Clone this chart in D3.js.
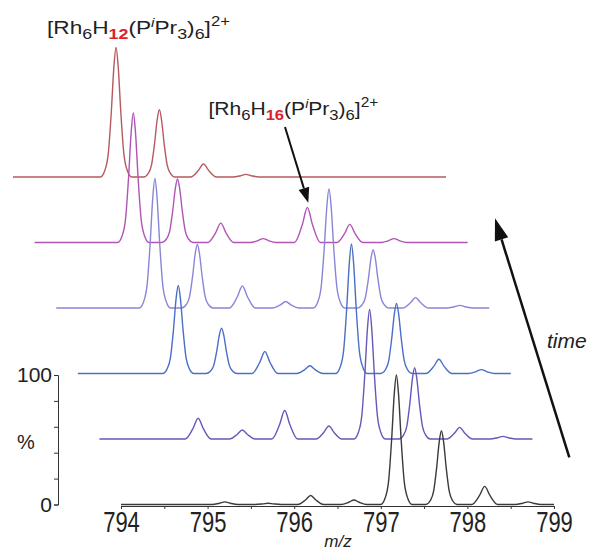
<!DOCTYPE html>
<html>
<head>
<meta charset="utf-8">
<script src="https://cdn.jsdelivr.net/npm/d3@7"></script>
<style>
  body { margin: 0; background: #fff; }
  text { font-family: "Liberation Sans", Arial, sans-serif; fill: #222; }
</style>
</head>
<body>
<svg id="chart" width="591" height="552"></svg>
<script>
// Axis ticks
const mzTicks = [794, 794.5, 795, 795.5, 796, 796.5, 797, 797.5, 798, 798.5, 799];
const pctTicks = [0, 20, 40, 60, 80, 100];

// Spectra, bottom (latest) to top (earliest): [m/z, %]
const spectrum0 = [[794,0],
  [795.05,0],[795.14,1],[795.20,2],[795.26,1],[795.35,0],
  [795.55,0],[795.64,0.5],[795.70,1],[795.76,0.5],[795.85,0],
  [796.04,0],[796.13,3.5],[796.19,7],[796.25,3.5],[796.34,0],
  [796.54,0],[796.63,1.75],[796.69,3.5],[796.75,1.75],[796.84,0],
  [797.00,0],[797.05,5],[797.09,18],[797.125,50],[797.155,85],[797.18,100],[797.205,85],[797.235,50],[797.27,18],[797.31,5],[797.36,0],
  [797.52,0],[797.57,2.9],[797.61,10.3],[797.645,28.5],[797.675,48.5],[797.70,57],[797.725,48.5],[797.755,28.5],[797.79,10.3],[797.83,2.9],[797.88,0],
  [798.05,0],[798.14,7],[798.20,14],[798.26,7],[798.35,0],
  [798.55,0],[798.64,1],[798.70,2],[798.76,1],[798.85,0],
  [799,0]];

const spectrum1 = [[794,0],
  [794.99,0],[795.08,8],[795.14,16],[795.20,8],[795.29,0],
  [795.50,0],[795.59,3.5],[795.65,7],[795.71,3.5],[795.80,0],
  [795.99,0],[796.08,11],[796.14,22],[796.20,11],[796.29,0],
  [796.50,0],[796.59,5],[796.65,10],[796.71,5],[796.80,0],
  [796.94,0],[796.99,5],[797.03,18],[797.065,50],[797.095,85],[797.12,100],[797.145,85],[797.175,50],[797.21,18],[797.25,5],[797.30,0],
  [797.46,0],[797.51,2.8],[797.55,9.9],[797.585,27.5],[797.615,46.8],[797.64,55],[797.665,46.8],[797.695,27.5],[797.73,9.9],[797.77,2.8],[797.82,0],
  [798.01,0],[798.10,4.5],[798.16,9],[798.22,4.5],[798.31,0],
  [798.51,0],[798.60,1],[798.66,2],[798.72,1],[798.81,0],
  [799,0]];

const spectrum2 = [[794,0],
  [794.98,0],[795.03,3.4],[795.07,12.2],[795.105,34],[795.135,57.8],[795.16,68],[795.185,57.8],[795.215,34],[795.25,12.2],[795.29,3.4],[795.34,0],
  [795.48,0],[795.53,1.8],[795.57,6.3],[795.605,17.5],[795.635,29.8],[795.66,35],[795.685,29.8],[795.715,17.5],[795.75,6.3],[795.79,1.8],[795.84,0],
  [796.01,0],[796.10,8.5],[796.16,17],[796.22,8.5],[796.31,0],
  [796.53,0],[796.62,3],[796.68,6],[796.74,3],[796.83,0],
  [796.98,0],[797.03,5],[797.07,18],[797.105,50],[797.135,85],[797.16,100],[797.185,85],[797.215,50],[797.25,18],[797.29,5],[797.34,0],
  [797.50,0],[797.55,2.7],[797.59,9.7],[797.625,27],[797.655,45.9],[797.68,54],[797.705,45.9],[797.735,27],[797.77,9.7],[797.81,2.7],[797.86,0],
  [798.02,0],[798.11,5.5],[798.17,11],[798.23,5.5],[798.32,0],
  [798.51,0],[798.60,1.5],[798.66,3],[798.72,1.5],[798.81,0],
  [799,0]];

const spectrum3 = [[794,0],
  [794.96,0],[795.01,5],[795.05,18],[795.085,50],[795.115,85],[795.14,100],[795.165,85],[795.195,50],[795.23,18],[795.27,5],[795.32,0],
  [795.45,0],[795.50,2.5],[795.54,8.8],[795.575,24.5],[795.605,41.7],[795.63,49],[795.655,41.7],[795.685,24.5],[795.72,8.8],[795.76,2.5],[795.81,0],
  [796.00,0],[796.09,8.5],[796.15,17],[796.21,8.5],[796.30,0],
  [796.50,0],[796.59,2.5],[796.65,5],[796.71,2.5],[796.80,0],
  [796.97,0],[797.02,4.6],[797.06,16.6],[797.095,46],[797.125,78.2],[797.15,92],[797.175,78.2],[797.205,46],[797.24,16.6],[797.28,4.6],[797.33,0],
  [797.48,0],[797.53,2.3],[797.57,8.1],[797.605,22.5],[797.635,38.3],[797.66,45],[797.685,38.3],[797.715,22.5],[797.75,8.1],[797.79,2.3],[797.84,0],
  [798.00,0],[798.09,4],[798.15,8],[798.21,4],[798.30,0],
  [798.51,0],[798.60,1],[798.66,2],[798.72,1],[798.81,0],
  [799,0]];

const spectrum4 = [[794,0],
  [794.96,0],[795.01,5],[795.05,18],[795.085,50],[795.115,85],[795.14,100],[795.165,85],[795.195,50],[795.23,18],[795.27,5],[795.32,0],
  [795.47,0],[795.52,2.5],[795.56,8.8],[795.595,24.5],[795.625,41.7],[795.65,49],[795.675,41.7],[795.705,24.5],[795.74,8.8],[795.78,2.5],[795.83,0],
  [796.00,0],[796.09,7.5],[796.15,15],[796.21,7.5],[796.30,0],
  [796.49,0],[796.58,1.5],[796.64,3],[796.70,1.5],[796.79,0],
  [797.00,0],[797.09,13.5],[797.15,27],[797.21,13.5],[797.30,0],
  [797.49,0],[797.58,7],[797.64,14],[797.70,7],[797.79,0],
  [798.00,0],[798.09,1.5],[798.15,3],[798.21,1.5],[798.30,0],
  [799,0]];

const spectrum5 = [[794,0],
  [795.01,0],[795.06,5],[795.10,18],[795.135,50],[795.165,85],[795.19,100],[795.215,85],[795.245,50],[795.28,18],[795.32,5],[795.37,0],
  [795.51,0],[795.56,2.6],[795.60,9.4],[795.635,26],[795.665,44.2],[795.69,52],[795.715,44.2],[795.745,26],[795.78,9.4],[795.82,2.6],[795.87,0],
  [796.05,0],[796.14,5],[796.20,10],[796.26,5],[796.35,0],
  [796.54,0],[796.63,1],[796.69,2],[796.75,1],[796.84,0],
  [799,0]];

const spectra = [spectrum0, spectrum1, spectrum2, spectrum3, spectrum4, spectrum5];
const traceColors = ["#3a3a3a", "#6757b8", "#4b6ec6", "#8886d8", "#b054b6", "#b55a5e"];

const svg = d3.select("#chart");

// Scales for the front (bottom) spectrum; others are shifted back
const xScale = d3.scaleLinear().domain([794, 799]).range([121, 554]);
const yScale = d3.scaleLinear().domain([0, 100]).range([504.5, 375]);
const stepX = -21.6;
const stepY = -65.5;

const line = d3.line()
  .x(function (d) { return xScale(d[0]); })
  .y(function (d) { return yScale(d[1]); })
  .curve(d3.curveMonotoneX);

// draw the back traces first
for (let k = spectra.length - 1; k >= 0; k--) {
  svg.append("path")
    .attr("transform", `translate(${k * stepX},${k * stepY})`)
    .attr("fill", "none")
    .attr("stroke", traceColors[k])
    .attr("stroke-width", 1.4)
    .attr("stroke-linejoin", "round")
    .attr("d", line(spectra[k]));
}

// y axis
const yAxis = svg.append("g")
  .attr("transform", "translate(58,0)")
  .call(
    d3.axisLeft(yScale)
      .tickValues(pctTicks)
      .tickSize(4)
      .tickSizeOuter(4)
      .tickPadding(2)
      .tickFormat((d) => (d === 0 || d === 100) ? d : "")
  );
yAxis.selectAll("path, line").attr("stroke", "#333");
yAxis.selectAll("text")
  .attr("font-size", 21)
  .attr("font-family", "Liberation Sans, Arial, sans-serif");

svg.append("text")
  .attr("x", 26)
  .attr("y", 449)
  .attr("text-anchor", "middle")
  .attr("font-size", 20)
  .text("%");

// x axis
const xAxis = svg.append("g")
  .attr("transform", "translate(0,506)")
  .call(
    d3.axisBottom(xScale)
      .tickValues(mzTicks)
      .tickSize(3)
      .tickSizeOuter(3)
      .tickFormat((d) => Number.isInteger(d) ? d : "")
  );
xAxis.selectAll("path, line").attr("stroke", "#333");
xAxis.selectAll("text")
  .attr("y", 0)
  .attr("dy", null)
  .attr("transform", "translate(0,25.5) scale(1,1.3)")
  .attr("font-size", 22)
  .attr("font-family", "Liberation Sans, Arial, sans-serif");

svg.append("text")
  .attr("x", 338)
  .attr("y", 547)
  .attr("text-anchor", "middle")
  .attr("font-size", 17)
  .attr("font-style", "italic")
  .text("m/z");

// formula labels
function formulaLabel(x, y, targetWidth, hCount) {
  const g = svg.append("g");
  const t = g.append("text").attr("font-size", 19);
  t.append("tspan").text("[Rh");
  t.append("tspan").attr("font-size", 15).attr("dy", 5).text("6");
  t.append("tspan").attr("dy", -5).text("H");
  t.append("tspan").attr("font-size", 15).attr("dy", 5)
    .attr("fill", "#dd2229").attr("font-weight", "bold").text(hCount);
  t.append("tspan").attr("dy", -5).text("(P");
  t.append("tspan").attr("font-size", 13).attr("dy", -7).attr("font-style", "italic").text("i");
  t.append("tspan").attr("dy", 7).text("Pr");
  t.append("tspan").attr("font-size", 15).attr("dy", 5).text("3");
  t.append("tspan").attr("dy", -5).text(")");
  t.append("tspan").attr("font-size", 15).attr("dy", 5).text("6");
  t.append("tspan").attr("dy", -5).text("]");
  t.append("tspan").attr("font-size", 14).attr("dy", -8).text("2+");
  const w = t.node().getBBox().width;
  g.attr("transform", `translate(${x},${y}) scale(${targetWidth / w},1)`);
}
formulaLabel(47, 34.3, 183, "12");
formulaLabel(208.5, 115, 170, "16");

// arrows
function arrow(x1, y1, x2, y2, headLen, headHalf, sw) {
  const a = Math.atan2(y2 - y1, x2 - x1);
  const bx = x2 - headLen * Math.cos(a);
  const by = y2 - headLen * Math.sin(a);
  svg.append("line")
    .attr("x1", x1).attr("y1", y1)
    .attr("x2", bx).attr("y2", by)
    .attr("stroke", "#111")
    .attr("stroke-width", sw);
  const px = -Math.sin(a) * headHalf;
  const py = Math.cos(a) * headHalf;
  svg.append("polygon")
    .attr("points", `${x2},${y2} ${bx + px},${by + py} ${bx - px},${by - py}`)
    .attr("fill", "#111");
}
arrow(285, 127, 308.3, 202.7, 15, 5.5, 2);
arrow(569.3, 457.3, 495, 218.3, 22, 7, 2.5);

svg.append("text")
  .attr("x", 547)
  .attr("y", 348)
  .attr("font-size", 21)
  .attr("font-style", "italic")
  .text("time");
</script>
</body>
</html>
